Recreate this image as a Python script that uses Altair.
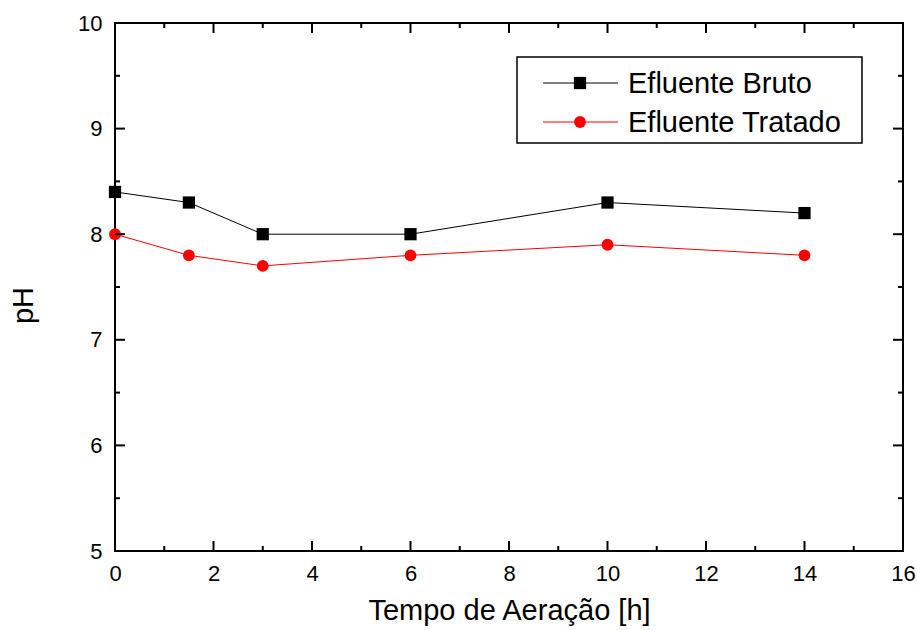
import altair as alt
import pandas as pd

# Aeration time (h) and measured pH
tempo = [0, 1.5, 3, 6, 10, 14]
ph_bruto = [8.4, 8.3, 8.0, 8.0, 8.3, 8.2]
ph_tratado = [8.0, 7.8, 7.7, 7.8, 7.9, 7.8]

series_names = ["Efluente Bruto", "Efluente Tratado"]
series_colors = ["#000000", "#ff0000"]
series_shapes = ["square", "circle"]
series_sizes = [150, 140]

x_major = [0, 2, 4, 6, 8, 10, 12, 14, 16]
x_minor = [1, 3, 5, 7, 9, 11, 13, 15]
y_major = [5, 6, 7, 8, 9, 10]
y_minor = [5.5, 6.5, 7.5, 8.5, 9.5]

W, H = 788, 528
FONT = "Liberation Sans"

df = pd.DataFrame(
    {
        "t": tempo * 2,
        "ph": ph_bruto + ph_tratado,
        "serie": [series_names[0]] * len(tempo) + [series_names[1]] * len(tempo),
    }
)

xs = alt.Scale(domain=[0, 16], nice=False, zero=False)
ys = alt.Scale(domain=[5, 10], nice=False, zero=False)
color = alt.Color("serie:N", scale=alt.Scale(domain=series_names, range=series_colors), legend=None)

x_axis = alt.Axis(
    values=x_major, format="d", ticks=False, domain=False, grid=False,
    labelFont=FONT, labelFontSize=22, labelColor="#000", labelPadding=12,
    labelFlush=False, labelOverlap=False,
    title="Tempo de Aeração [h]", titleFont=FONT, titleFontSize=29,
    titleFontWeight="normal", titleColor="#000",
    titleBaseline="alphabetic", titleY=68,
)
y_axis = alt.Axis(
    values=y_major, format="d", ticks=False, domain=False, grid=False,
    labelFont=FONT, labelFontSize=22, labelColor="#000", labelPadding=13,
    labelFlush=False, labelOverlap=False,
    title="pH", titleFont=FONT, titleFontSize=29, titleFontWeight="normal",
    titleColor="#000", titleBaseline="alphabetic", titleX=-83, titleY=282,
    titleAlign="center",
)

base = alt.Chart(df)
lines = base.mark_line(strokeWidth=1).encode(
    x=alt.X("t:Q", scale=xs, axis=x_axis),
    y=alt.Y("ph:Q", scale=ys, axis=y_axis),
    color=color,
)
point_layers = []
for name, col, shp, sz in zip(series_names, series_colors, series_shapes, series_sizes):
    point_layers.append(
        base.transform_filter(alt.datum.serie == name)
        .mark_point(shape=shp, filled=True, size=sz, opacity=1, color=col)
        .encode(x=alt.X("t:Q", scale=xs), y=alt.Y("ph:Q", scale=ys))
    )


def tick_layer(values, field, length, side):
    d = pd.DataFrame({field: values})
    c = alt.Chart(d).mark_rule(color="#000", strokeWidth=2)
    if field == "x":
        enc = dict(x=alt.X("x:Q", scale=xs))
        if side == "bottom":
            enc.update(y=alt.value(H), y2=alt.value(H - length))
        else:
            enc.update(y=alt.value(0), y2=alt.value(length))
    else:
        enc = dict(y=alt.Y("y:Q", scale=ys))
        if side == "left":
            enc.update(x=alt.value(0), x2=alt.value(length))
        else:
            enc.update(x=alt.value(W), x2=alt.value(W - length))
    return c.encode(**enc)


ticks = [
    tick_layer(x_major, "x", 10, "bottom"),
    tick_layer(x_minor, "x", 5, "bottom"),
    tick_layer(x_major, "x", 10, "top"),
    tick_layer(x_minor, "x", 5, "top"),
    tick_layer(y_major, "y", 10, "left"),
    tick_layer(y_minor, "y", 5, "left"),
    tick_layer(y_major, "y", 10, "right"),
    tick_layer(y_minor, "y", 5, "right"),
]

# Legend box drawn in the upper right of the plot area
leg_box = alt.Chart(pd.DataFrame({"k": [0]})).mark_rect(
    fill="white", stroke="#000", strokeWidth=1.5
).encode(x=alt.value(402), x2=alt.value(747), y=alt.value(34), y2=alt.value(120))

leg_rows = []
for i, (name, col, shp, sz) in enumerate(zip(series_names, series_colors, series_shapes, series_sizes)):
    yy = 60 + i * 39
    row = pd.DataFrame({"label": [name]})
    rule = alt.Chart(row).mark_rule(color=col, strokeWidth=1).encode(
        x=alt.value(428), x2=alt.value(503), y=alt.value(yy)
    )
    pt = alt.Chart(row).mark_point(
        shape=shp, filled=True, size=sz, opacity=1, color=col
    ).encode(x=alt.value(465), y=alt.value(yy))
    txt = alt.Chart(row).mark_text(
        align="left", baseline="middle", font=FONT, fontSize=29, color="#000"
    ).encode(x=alt.value(513), y=alt.value(yy + 1), text="label:N")
    leg_rows += [rule, pt, txt]

chart = alt.layer(lines, *point_layers, *ticks, leg_box, *leg_rows).properties(
    width=W,
    height=H,
    padding={"left": 115, "top": 23, "right": 14, "bottom": 79},
    autosize=alt.AutoSizeParams(type="none"),
    background="white",
).configure_view(stroke="#000", strokeWidth=2)

chart.save("out.html", embed_options={"renderer": "svg", "actions": False})
